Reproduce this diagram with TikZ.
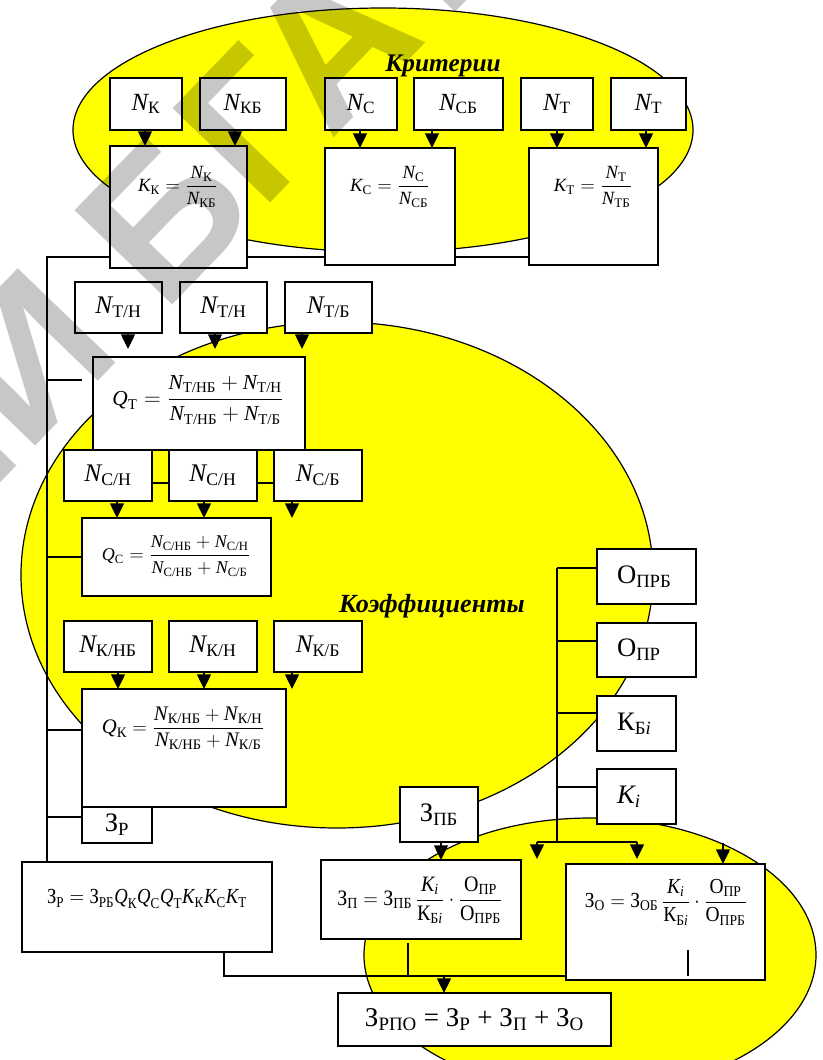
\documentclass[tikz,border=0pt]{standalone}
\usepackage{amsmath}
\usepackage{fontspec}
\setmainfont{Liberation Serif}
\newfontfamily\wmfont{Liberation Sans}
\usetikzlibrary{arrows.meta}
\definecolor{yel}{RGB}{255,255,0}
\newcommand\I[1]{\textit{#1}}
\newcommand\T[1]{\text{#1}}
\newcommand\fs[1]{\fontsize{#1}{#1}\selectfont}
% box from corners (in px): [opts]{name}{x1}{y1}{x2}{y2}{text}
\newcommand\bnode[7][]{\node[box,minimum width={(#5-#3)*0.75pt},minimum height={(#6-#4)*0.75pt},#1] (#2) at ({(#3+#5)/2},{(#4+#6)/2}) {#7};}
\begin{document}
\begin{tikzpicture}[x=0.75pt,y=-0.75pt,
  box/.style={draw,line width=1.2pt,fill=white,inner sep=0pt,outer sep=0pt},
  conn/.style={line width=1pt},
  arr/.style={line width=1pt,-{Triangle[width=10.5pt,length=11pt]}},
  ell/.style={draw,line width=0.9pt,fill=yel},
  lblA/.style={font=\fs{18.5}},
  lblB/.style={font=\fs{19}},
  lblC/.style={font=\fs{20}},
  head/.style={font=\fs{19}\bfseries\itshape},
  wm/.style={font=\wmfont\bfseries\fs{148}, text=black, text opacity=0.22, inner sep=0pt}]
\useasboundingbox (0,0) rectangle (822,1060);
\clip (0,0) rectangle (822,1060);
% ---------- background ellipses ----------
\path[ell] (383,130) ellipse [x radius=310, y radius=122];
\path[ell] (337,575) ellipse [x radius=316, y radius=253];
\path[ell] (590,955) ellipse [x radius=226, y radius=137];
\node[head] (crit) at (443,66) {Критерии};
\node[head,font=\fs{19.6}\bfseries\itshape] (koef) at (432,606) {Коэффициенты};
% ---------- named points for free ends ----------
\coordinate (L) at (47,257);
\coordinate (Lb) at (47,862);
\coordinate (tQT) at (82,380);
\coordinate (tQK) at (82,730);
\coordinate (tZR) at (82,817);
\coordinate (R) at (557,568);
\coordinate (Rb) at (557,842);
\coordinate (b1) at (537,842);
\coordinate (b2) at (637,842);
\coordinate (B) at (224,976);
\coordinate (fa) at (723,843);
% ---------- upper boxes ----------
\bnode[lblA]{NK}{110}{78}{182}{130}{$\I{N}_{\T{К}}$}
\bnode[lblA]{NKB}{200}{78}{286}{130}{$\I{N}_{\T{КБ}}$}
\bnode[lblA]{NC}{325}{78}{397}{130}{$\I{N}_{\T{С}}$}
\bnode[lblA]{NCB}{414}{78}{503}{130}{$\I{N}_{\T{СБ}}$}
\bnode[lblA]{NT1}{521}{78}{593}{130}{$\I{N}_{\T{Т}}$}
\bnode[lblA]{NT2}{611}{78}{686}{130}{$\I{N}_{\T{Т}}$}
% ---------- left bus and its branches (behind the boxes) ----------
\draw[conn] (529,0 |- L) -- (L) -- (Lb);
\draw[conn] (L |- tQT) -- (tQT);
\draw[conn] (47,557) -- (82,557);
\draw[conn] (L |- tQK) -- (tQK);
\draw[conn] (L |- tZR) -- (tZR);
\draw[conn] (64,483) -- (362,483);
% ---------- formula boxes ----------
\bnode{KK}{110}{146}{247}{268}{}
\bnode{KC}{325}{148}{455}{265}{}
\bnode{KT}{529}{148}{658}{265}{}
\bnode{QT}{93}{357}{305}{450}{}
\bnode{QC}{82}{518}{271}{596}{}
\bnode[lblC]{ZRs}{82}{807}{152}{843}{З$_{\T{Р}}$}
\bnode{QK}{82}{689}{286}{807}{}
\bnode[lblB]{NTH1}{75}{282}{162}{333}{$\I{N}_{\T{Т/Н}}$}
\bnode[lblB]{NTH2}{180}{282}{267}{333}{$\I{N}_{\T{Т/Н}}$}
\bnode[lblB]{NTB}{285}{282}{372}{333}{$\I{N}_{\T{Т/Б}}$}
\bnode[lblB]{NCH1}{64}{450}{152}{501}{$\I{N}_{\T{С/Н}}$}
\bnode[lblB]{NCH2}{169}{450}{257}{501}{$\I{N}_{\T{С/Н}}$}
\bnode[lblB]{NCB2}{274}{450}{362}{501}{$\I{N}_{\T{С/Б}}$}
\bnode[lblB]{NKNB}{64}{621}{152}{672}{$\I{N}_{\T{К/НБ}}$}
\bnode[lblB]{NKH}{169}{621}{257}{672}{$\I{N}_{\T{К/Н}}$}
\bnode[lblB]{NKB2}{274}{621}{362}{672}{$\I{N}_{\T{К/Б}}$}
% ---------- right column ----------
\draw[conn] (R) -- (Rb);
\draw[conn] (b1) -- (b2);
\bnode[lblC,text width={59*0.75pt},align=left,inner xsep=15pt]{OPRB}{597}{549}{696}{604}{О$_{\T{ПРБ}}$}
\bnode[lblC,text width={59*0.75pt},align=left,inner xsep=15pt]{OPR}{597}{623}{696}{677}{О$_{\T{ПР}}$}
\bnode[lblC,text width={39*0.75pt},align=left,inner xsep=15pt]{KBi}{597}{696}{676}{751}{К$_{\T{Б\I{i}}}$}
\bnode[lblC,text width={39*0.75pt},align=left,inner xsep=15pt]{Ki}{597}{769}{676}{824}{$\I{K}_{\I{i}}$}
\draw[conn] (R) -- (R -| OPRB.west);
\draw[conn] (557,641) -- (557,641 -| OPR.west);
\draw[conn] (557,713) -- (557,713 -| KBi.west);
\draw[conn] (557,787) -- (557,787 -| Ki.west);
\bnode[lblC]{ZPB}{400}{787}{478}{842}{З$_{\T{ПБ}}$}
% ---------- lower formula boxes ----------
\bnode{ZRf}{22}{862}{272}{952}{}
\bnode{ZPf}{321}{860}{521}{939}{}
\bnode{ZOf}{566}{864}{765}{980}{}
\bnode[font=\fs{20.3}]{ZRPO}{338}{993}{611}{1046}{З$_{\T{РПО}}$ = З$_{\T{Р}}$ + З$_{\T{П}}$ + З$_{\T{О}}$}
% ---------- arrows ----------
\foreach \x/\a/\b in {145/NK/KK,235/NKB/KK,360/NC/KC,432/NCB/KC,557/NT1/KT,646/NT2/KT}
  \draw[arr] (\x,0 |- \a.south) -- (\x,0 |- \b.north);
\foreach \x/\a in {128/NTH1,215/NTH2,302/NTB}
  \draw[arr] (\x,0 |- \a.south) -- (\x,349);
\foreach \x/\a in {117/NCH1,204/NCH2,292/NCB2}
  \draw[arr] (\x,0 |- \a.south) -- (\x,0 |- QC.north);
\foreach \x/\a in {118/NKNB,204/NKH,292/NKB2}
  \draw[arr] (\x,0 |- \a.south) -- (\x,0 |- QK.north);
\draw[arr] (b1) -- (537,859);
\draw[arr] (b2) -- (637,859);
\draw[arr] (441,0 |- ZPB.south) -- (441,0 |- ZPf.north);
\draw[arr] (fa) -- (fa |- ZOf.north);
\draw[conn] (224,0 |- ZRf.south) -- (B) -- (B -| ZOf.west);
\draw[conn] (408,943) -- (408,0 |- B);
\draw[conn] (688,950) -- (688,0 |- B);
\draw[arr] (444,0 |- B) -- (444,0 |- ZRPO.north);
% ---------- formulas ----------
\node[font=\fs{14}] (KKt) at (178,187) {$\displaystyle \I{K}_{\T{К}}=\frac{\I{N}_{\T{К}}}{\I{N}_{\T{КБ}}}$};
\node[font=\fs{14}] (KCt) at (390,187) {$\displaystyle \I{K}_{\T{С}}=\frac{\I{N}_{\T{С}}}{\I{N}_{\T{СБ}}}$};
\node[font=\fs{14}] (KTt) at (593,187) {$\displaystyle \I{K}_{\T{Т}}=\frac{\I{N}_{\T{Т}}}{\I{N}_{\T{ТБ}}}$};
\node[font=\fs{16}] (QTt) at (198,400) {$\displaystyle \I{Q}_{\T{Т}}=\frac{\I{N}_{\T{Т/НБ}}+\I{N}_{\T{Т/Н}}}{\I{N}_{\T{Т/НБ}}+\I{N}_{\T{Т/Б}}}$};
\node[font=\fs{13.5}] (QCt) at (176,556) {$\displaystyle \I{Q}_{\T{С}}=\frac{\I{N}_{\T{С/НБ}}+\I{N}_{\T{С/Н}}}{\I{N}_{\T{С/НБ}}+\I{N}_{\T{С/Б}}}$};
\node[font=\fs{15.5}] (QKt) at (183,728) {$\displaystyle \I{Q}_{\T{К}}=\frac{\I{N}_{\T{К/НБ}}+\I{N}_{\T{К/Н}}}{\I{N}_{\T{К/НБ}}+\I{N}_{\T{К/Б}}}$};
\node[font=\fs{14},yscale=1.15] (ZRt) at (147,899) {$\T{З}_{\T{Р}}=\T{З}_{\T{РБ}}\I{Q}_{\T{К}}\I{Q}_{\T{С}}\I{Q}_{\T{Т}}\I{K}_{\T{К}}\I{K}_{\T{С}}\I{K}_{\T{Т}}$};
\node[font=\fs{15},yscale=1.1] (ZPt) at (420,900) {$\displaystyle \T{З}_{\T{П}}=\T{З}_{\T{ПБ}}\,\frac{\I{K}_{\I{i}}}{\T{К}_{\T{Б\I{i}}}}\cdot\frac{\T{О}_{\T{ПР}}}{\T{О}_{\T{ПРБ}}}$};
\node[font=\fs{14.6},yscale=1.1] (ZOt) at (666,902) {$\displaystyle \T{З}_{\T{О}}=\T{З}_{\T{ОБ}}\,\frac{\I{K}_{\I{i}}}{\T{К}_{\T{Б\I{i}}}}\cdot\frac{\T{О}_{\T{ПР}}}{\T{О}_{\T{ПРБ}}}$};
% ---------- watermark ----------
\node[wm,rotate=46,anchor=base west] (wm2) at (163,315) {БГАТУ};
\node[wm,rotate=46,anchor=base east] (wm1) at (125,354) {РЕПОЗИТОРИЙ};
\end{tikzpicture}
\end{document}
